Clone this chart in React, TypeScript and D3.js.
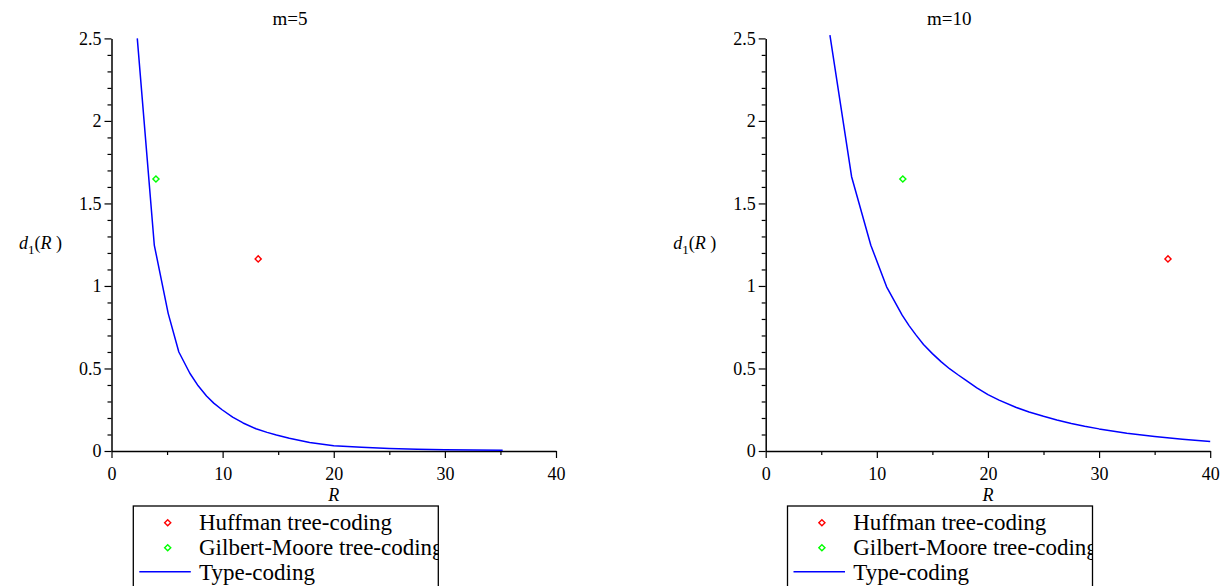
import { useRef, useEffect } from 'react'
import * as d3 from 'd3'

// values
const titles = ['m=5', 'm=10']
const typeR5 = [2.32, 3.85, 5.1, 6.06, 7.05, 7.8, 8.55, 9.2, 9.95, 10.9, 11.84, 13.0, 14.0, 14.84, 16.0, 17.83, 20, 22.5, 25, 27.5, 30, 35.2]
const typeD5 = [2.5, 1.248, 0.834, 0.6, 0.471, 0.395, 0.333, 0.29, 0.25, 0.205, 0.17, 0.135, 0.113, 0.097, 0.077, 0.052, 0.032, 0.022, 0.015, 0.01, 0.007, 0.004]
const typeR10 = [5.78, 7.73, 9.46, 10.88, 12.28, 12.9, 13.5, 14.2, 15, 15.8, 16.57, 17.3, 18, 19, 20, 21, 22.5, 23.7, 25, 26.2, 27.5, 28.7, 30, 32.5, 35, 37.5, 40]
const typeD10 = [2.52, 1.662, 1.247, 0.995, 0.823, 0.76, 0.705, 0.645, 0.59, 0.54, 0.497, 0.462, 0.43, 0.383, 0.342, 0.308, 0.265, 0.236, 0.21, 0.188, 0.167, 0.15, 0.134, 0.108, 0.088, 0.071, 0.057]
const huffmanR = [13.2, 36.2]
const huffmanD = [1.164, 1.164]
const gilbertR = [4.0, 12.34]
const gilbertD = [1.648, 1.648]
const xMajor = [0, 10, 20, 30, 40]
const xMinor = [5, 15, 25, 35]
const yMajor = [0, 0.5, 1, 1.5, 2, 2.5]
const yMinor = [0.1, 0.2, 0.3, 0.4, 0.6, 0.7, 0.8, 0.9, 1.1, 1.2, 1.3, 1.4, 1.6, 1.7, 1.8, 1.9, 2.1, 2.2, 2.3, 2.4]
const legendLabels = ['Huffman tree-coding', 'Gilbert-Moore tree-coding', 'Type-coding']

const serif = "'Liberation Serif', 'Times New Roman', serif"

function App() {
  const ref = useRef<SVGSVGElement>(null)

  useEffect(() => {
    const svg = d3.select(ref.current)
    svg.selectAll('*').remove()
    svg.attr('font-family', serif)

    const panelOffsets = [0, 654.2]
    const curves = [
      typeR5.map((r, i) => [r, typeD5[i]]),
      typeR10.map((r, i) => [r, typeD10[i]])
    ]

    panelOffsets.forEach((off, p) => {
      const g = svg.append('g')
      const x = d3.scaleLinear().domain([0, 40]).range([111.5 + off, 556 + off])
      const y = d3.scaleLinear().domain([0, 2.5]).range([451, 38.4])

      // title
      g.append('text')
        .attr('x', 290 + off + (p === 1 ? 5 : 0))
        .attr('y', 25)
        .attr('text-anchor', 'middle')
        .attr('font-size', 19)
        .text(titles[p])

      // y axis
      const yAx = g.append('g').attr('transform', `translate(${x(0)},0)`)
      yAx.call(d3.axisLeft(y).tickValues(yMinor).tickSize(4).tickFormat(() => ''))
      yAx.call(g2 => g2.select('.domain').remove())
      const yAx2 = g.append('g').attr('transform', `translate(${x(0)},0)`)
      yAx2.call(d3.axisLeft(y).tickValues(yMajor).tickSize(7).tickSizeOuter(0).tickPadding(3)
        .tickFormat(d => String(d)))
      yAx2.select('.domain').attr('stroke-width', 1.5)

      // x axis
      const xAx = g.append('g').attr('transform', `translate(0,${y(0)})`)
      xAx.call(d3.axisBottom(x).tickValues(xMinor).tickSize(4).tickFormat(() => ''))
      xAx.call(g2 => g2.select('.domain').remove())
      const xAx2 = g.append('g').attr('transform', `translate(0,${y(0)})`)
      xAx2.call(d3.axisBottom(x).tickValues(xMajor).tickSize(7).tickSizeOuter(0).tickPadding(9)
        .tickFormat(d => String(d)))
      xAx2.select('.domain').attr('stroke-width', 1.5)

      ;[yAx, yAx2, xAx, xAx2].forEach(a => a.attr('font-family', serif).attr('font-size', 18))
      g.selectAll('.tick line').attr('stroke', '#000').attr('stroke-width', 1.2)
      g.selectAll('.tick text').attr('fill', '#000')

      // axis labels
      const yl = g.append('text')
        .attr('x', 62 + off)
        .attr('y', 249)
        .attr('text-anchor', 'end')
        .attr('font-size', 18)
      yl.append('tspan').attr('font-style', 'italic').text('d')
      yl.append('tspan').attr('dy', 5).attr('font-size', 13).text('1')
      yl.append('tspan').attr('dy', -5).text('(')
      yl.append('tspan').attr('font-style', 'italic').text('R')
      yl.append('tspan').text(' )')

      g.append('text')
        .attr('x', (x(0) + x(40)) / 2)
        .attr('y', 501)
        .attr('text-anchor', 'middle')
        .attr('font-size', 18)
        .attr('font-style', 'italic')
        .text('R')

      // type-coding curve
      const line = d3.line<number[]>().x(d => x(d[0])).y(d => y(d[1]))
      g.append('path')
        .datum(curves[p])
        .attr('d', line)
        .attr('fill', 'none')
        .attr('stroke', '#0000ff')
        .attr('stroke-width', 1.5)
        .attr('stroke-linejoin', 'round')

      // points
      const diamond = d3.symbol().type(d3.symbolDiamond2).size(24)
      g.append('path')
        .attr('d', diamond)
        .attr('transform', `translate(${x(gilbertR[p])},${y(gilbertD[p])})`)
        .attr('fill', 'none').attr('stroke', '#00ff00').attr('stroke-width', 1.4)
      g.append('path')
        .attr('d', diamond)
        .attr('transform', `translate(${x(huffmanR[p])},${y(huffmanD[p])})`)
        .attr('fill', 'none').attr('stroke', '#ff0000').attr('stroke-width', 1.4)

      // legend
      const lx = 133.3 + off, ly = 506, lw = 305, lh = 120
      svg.append('clipPath').attr('id', 'legclip' + p)
        .append('rect').attr('x', lx).attr('y', ly).attr('width', lw).attr('height', lh)
      const leg = g.append('g')
      leg.append('rect')
        .attr('x', lx).attr('y', ly).attr('width', lw).attr('height', lh)
        .attr('fill', 'none').attr('stroke', '#000').attr('stroke-width', 1.3)
      const lg = leg.append('g').attr('clip-path', `url(#legclip${p})`)
      const colors = ['#ff0000', '#00ff00']
      legendLabels.forEach((lab, i) => {
        const cy = 522.7 + i * 25
        if (i < 2) {
          lg.append('path').attr('d', diamond)
            .attr('transform', `translate(${lx + 34.4},${cy})`)
            .attr('fill', 'none').attr('stroke', colors[i]).attr('stroke-width', 1.4)
        } else {
          lg.append('line')
            .attr('x1', lx + 6).attr('x2', lx + 57.5).attr('y1', cy - 1).attr('y2', cy - 1)
            .attr('stroke', '#0000ff').attr('stroke-width', 1.5)
        }
        lg.append('text')
          .attr('x', lx + 65.7).attr('y', cy + 7.5)
          .attr('font-size', 23)
          .text(lab)
      })
    })
  }, [])

  return (
    <div>
      <svg ref={ref} width={1222} height={586}
        style={{ position: 'absolute', left: 0, top: 0, background: '#fff' }}>
      </svg>
    </div>
  )
}

export default App
